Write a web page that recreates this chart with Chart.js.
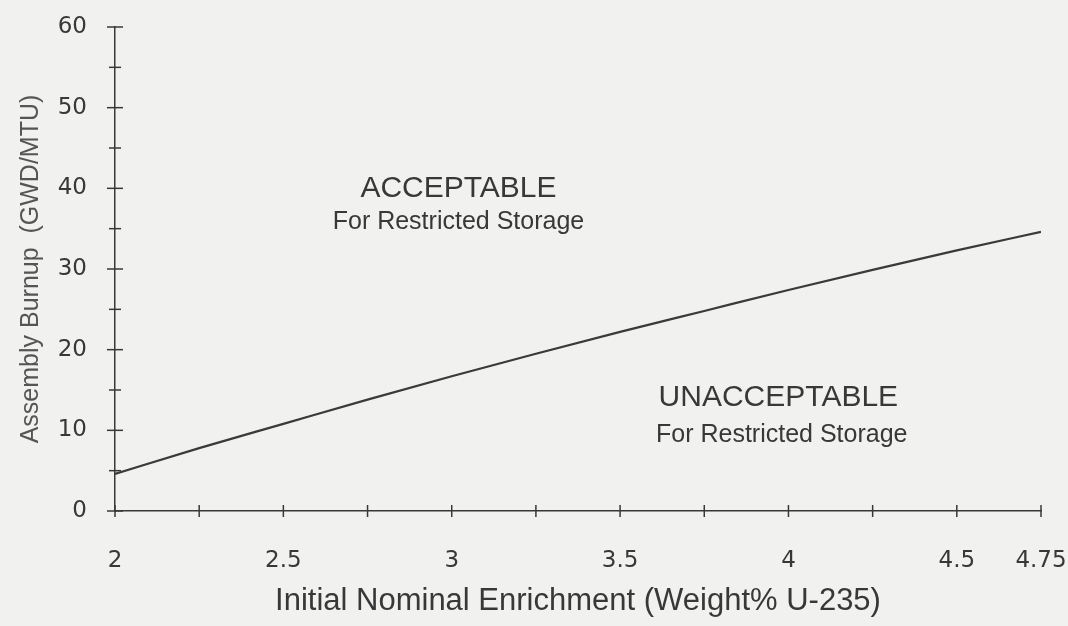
<!DOCTYPE html>
<html>
<head>
<meta charset="utf-8">
<title>Assembly Burnup vs Initial Enrichment</title>
<script src="https://cdn.jsdelivr.net/npm/chart.js@4.4.1/dist/chart.umd.min.js"></script>
<style>
    html, body { margin: 0; padding: 0; background: #f1f1ef; }
    #wrap { width: 1068px; height: 626px; position: relative; }
</style>
</head>
<body>
<div id="wrap"><canvas id="burnupChart"></canvas></div>
<script>
// Data
const enrichment = [2.0, 2.25, 2.5, 2.75, 3.0, 3.25, 3.5, 3.75, 4.0, 4.25, 4.5, 4.75];
const burnup     = [4.6, 7.8, 10.8, 13.8, 16.7, 19.5, 22.2, 24.8, 27.4, 29.9, 32.3, 34.6];
const xTickLabels = [2, 2.5, 3, 3.5, 4, 4.5, 4.75];
const yTickLabels = [0, 10, 20, 30, 40, 50, 60];

// Region notes, placed in data coordinates
const regionNotes = [
    { x: 3.02, y: 40.0, text: 'ACCEPTABLE', size: 30 },
    { x: 3.02, y: 35.8, text: 'For Restricted Storage', size: 25 },
    { x: 3.97, y: 14.0, text: 'UNACCEPTABLE', size: 30 },
    { x: 3.98, y: 9.4, text: 'For Restricted Storage', size: 25 }
];

const inkColor = '#383838';
const tickFont = { family: '"DejaVu Sans", sans-serif', size: 23 };

Chart.defaults.font.family = '"Liberation Sans", Arial, sans-serif';
Chart.defaults.color = inkColor;

// ticks that cross the axis line, like the original plot
const crossTicks = {
    id: 'crossTicks',
    afterDraw(chart) {
        const { ctx, scales } = chart;
        const xs = scales.x, ys = scales.y;
        const axisX = xs.getPixelForValue(xs.min);
        const axisY = ys.getPixelForValue(ys.min);
        ctx.save();
        ctx.strokeStyle = inkColor;
        ctx.lineWidth = 1.5;
        ys.ticks.forEach(t => {
            const py = ys.getPixelForValue(t.value);
            const len = yTickLabels.includes(t.value) ? 8 : 6;
            ctx.beginPath();
            ctx.moveTo(axisX - len, py);
            ctx.lineTo(axisX + len, py);
            ctx.stroke();
        });
        xs.ticks.forEach(t => {
            const px = xs.getPixelForValue(t.value);
            ctx.beginPath();
            ctx.moveTo(px, axisY - 6);
            ctx.lineTo(px, axisY + 6);
            ctx.stroke();
        });
        ctx.restore();
    }
};

const notesPlugin = {
    id: 'regionNotes',
    afterDatasetsDraw(chart) {
        const { ctx, scales } = chart;
        ctx.save();
        ctx.fillStyle = inkColor;
        ctx.textAlign = 'center';
        ctx.textBaseline = 'middle';
        regionNotes.forEach(n => {
            ctx.font = n.size + 'px "Liberation Sans", Arial, sans-serif';
            ctx.fillText(n.text, scales.x.getPixelForValue(n.x), scales.y.getPixelForValue(n.y));
        });
        ctx.restore();
    }
};

const ctx = document.getElementById('burnupChart');
const burnupChart = new Chart(ctx, {
    type: 'line',
    data: {
        datasets: [{
            label: 'Minimum burnup',
            data: enrichment.map((e, i) => ({ x: e, y: burnup[i] })),
            borderColor: '#3a3a3a',
            borderWidth: 2.2,
            pointRadius: 0,
            fill: false,
            cubicInterpolationMode: 'monotone'
        }]
    },
    options: {
        responsive: true,
        maintainAspectRatio: false,
        animation: false,
        layout: {
            padding: { top: 27, right: 27, left: 0, bottom: 0 }
        },
        scales: {
            x: {
                type: 'linear',
                min: 2,
                max: 4.75,
                grid: { display: false },
                border: { display: true, color: inkColor, width: 1.5 },
                ticks: {
                    stepSize: 0.25,
                    autoSkip: false,
                    maxRotation: 0,
                    padding: 28,
                    font: tickFont,
                    callback: v => xTickLabels.includes(v) ? String(v) : ''
                },
                title: {
                    display: true,
                    text: 'Initial Nominal Enrichment (Weight% U-235)',
                    font: { size: 31 },
                    padding: { top: 0, bottom: 6 }
                },
                afterFit: s => {
                    s.height = 115;
                    s.paddingLeft = 0;
                    s.paddingRight = 0;
                }
            },
            y: {
                min: 0,
                max: 60,
                grid: { display: false },
                border: { display: true, color: inkColor, width: 1.5 },
                ticks: {
                    stepSize: 5,
                    autoSkip: false,
                    padding: 20,
                    font: tickFont,
                    callback: v => yTickLabels.includes(v) ? String(v) : ''
                },
                title: {
                    display: true,
                    text: 'Assembly Burnup  (GWD/MTU)',
                    color: '#555',
                    font: { size: 25 },
                    padding: { top: 16, bottom: 0 }
                },
                afterFit: s => {
                    s.width = 115;
                    s.paddingTop = 0;
                    s.paddingBottom = 0;
                }
            }
        },
        plugins: {
            legend: { display: false },
            tooltip: { enabled: false }
        }
    },
    plugins: [crossTicks, notesPlugin]
});
</script>
</body>
</html>
